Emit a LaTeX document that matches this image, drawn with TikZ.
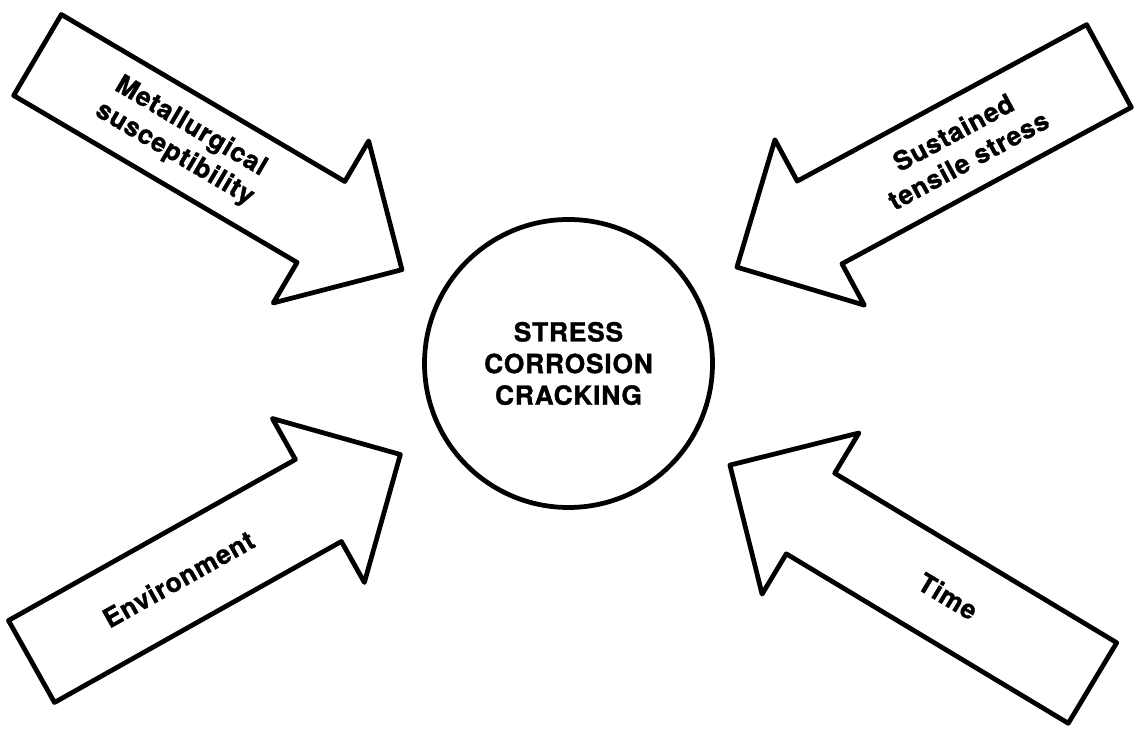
\documentclass[tikz,border=0pt]{standalone}
\usepackage{fontspec}
\setsansfont{TeX Gyre Heros}[BoldFeatures={FakeBold=1.2,LetterSpace=3}]
\usetikzlibrary{positioning,calc}

\begin{document}
\begin{tikzpicture}[
  font=\sffamily\bfseries,
  outl/.style={draw=black,line width=2.7pt,line join=round,fill=white},
  lbl/.style={font=\sffamily\bfseries\fontsize{15}{18}\selectfont,align=center,inner sep=0pt}
]
\useasboundingbox (0,0) rectangle (22.8,14.64);

% ---- centre ----
\node[outl,circle,minimum size=5.76cm,lbl] (scc) at (11.37,7.37)
  {STRESS\\ CORROSION\\ CRACKING};

% ---- factor arrows ----
\newcommand{\inarrow}[5]{%
  \begin{scope}[shift={(#2)},rotate=#3]
    \draw[outl] (0,-0.94) -- (6.58,-0.94) -- (6.58,-1.88) -- (8.46,0)
      -- (6.58,1.88) -- (6.58,0.94) -- (0,0.94) -- cycle;
    \node[lbl,rotate=#4] (#1) at (3.37,0) {#5};
  \end{scope}
}

\coordinate (metTail) at (0.75,13.54);
\coordinate (susTail) at (22.18,13.32);
\coordinate (envTail) at (0.63,1.41);
\coordinate (timTail) at (21.85,0.98);

\inarrow{met}{metTail}{-30.5}{-30.5}{Metallurgical\\ susceptibility}
\inarrow{sus}{susTail}{208.4}{28.4}{Sustained\\ tensile stress}
\inarrow{env}{envTail}{29.3}{29.3}{Environment}
\inarrow{tim}{timTail}{149}{-31}{Time}

\end{tikzpicture}
\end{document}
